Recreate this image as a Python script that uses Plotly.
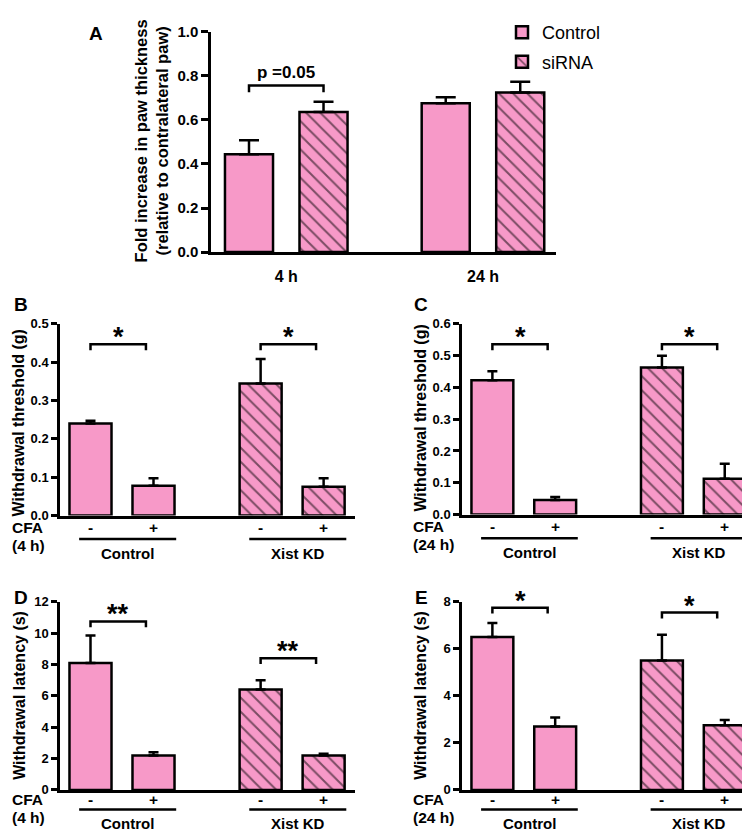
import plotly.graph_objects as go

W, H = 750, 832
PINK = "#F799C8"
FONT = "Arial, Liberation Sans, sans-serif"

# ---------------- Data ----------------
# Panel A
a_groups = ["4 h", "24 h"]
a_series = ["Control", "siRNA"]
a_control = [0.444, 0.675]
a_control_err = [0.063, 0.027]
a_sirna = [0.636, 0.724]
a_sirna_err = [0.046, 0.049]
a_sig_text = "p =0.05"
a_sig_y = 0.756

# Panels B-E
groups = ["Control", "Xist KD"]
cfa = ["-", "+"]

b_control = [0.240, 0.078]
b_control_err = [0.007, 0.019]
b_xist = [0.344, 0.075]
b_xist_err = [0.064, 0.022]
b_sig = ["*", "*"]
b_sig_y = [0.446, 0.446]

c_control = [0.422, 0.046]
c_control_err = [0.028, 0.009]
c_xist = [0.462, 0.113]
c_xist_err = [0.037, 0.047]
c_sig = ["*", "*"]
c_sig_y = [0.535, 0.535]

d_control = [8.1, 2.2]
d_control_err = [1.75, 0.2]
d_xist = [6.4, 2.2]
d_xist_err = [0.6, 0.1]
d_sig = ["**", "**"]
d_sig_y = [10.75, 8.4]

e_control = [6.5, 2.7]
e_control_err = [0.6, 0.38]
e_xist = [5.5, 2.75]
e_xist_err = [1.1, 0.22]
e_sig = ["*", "*"]
e_sig_y = [7.75, 7.54]


def py(p):
    return 1 - p / H


def px(p):
    return p / W


def pos(g, s, gap):
    return g * (1 + gap) + s


fig = go.Figure()
annotations = []
shapes = []

line_w = 2.5
solid = dict(color=PINK, line=dict(color="black", width=line_w))
hatch = dict(color=PINK, line=dict(color="black", width=line_w),
             pattern=dict(shape="\\", bgcolor=PINK, fgcolor="black", size=10, solidity=0.2))


def bold(size):
    return dict(family=FONT, size=size, color="black", weight="bold")


def ann(**kw):
    d = dict(showarrow=False, xanchor="center", yanchor="middle")
    d.update(kw)
    annotations.append(d)


def err(arr, w):
    return dict(type="data", array=arr, arrayminus=[0] * len(arr), symmetric=False,
                color="black", thickness=line_w, width=w)


def bracket(fig, xa, ya, x1, x2, y, drop, text, size, yshift):
    fig.add_trace(go.Scatter(x=[x1, x1, x2, x2], y=[y - drop, y, y, y - drop], mode="lines",
                             line=dict(color="black", width=line_w), xaxis=xa, yaxis=ya,
                             showlegend=False, hoverinfo="skip", cliponaxis=False))
    ann(x=(x1 + x2) / 2, y=y, xref=xa, yref=ya, text=text, yanchor="bottom", yshift=yshift,
        font=bold(size))


# ---------------- Panel A ----------------
gapA = 1.64
bwA = 0.645
xa_c = [pos(g, 0, gapA) for g in range(len(a_groups))]
xa_s = [pos(g, 1, gapA) for g in range(len(a_groups))]
fig.add_trace(go.Bar(x=xa_c, y=a_control, name=a_series[0], marker=solid, width=bwA,
                     error_y=err(a_control_err, 10), xaxis="x", yaxis="y",
                     legendgroup="a", showlegend=True))
fig.add_trace(go.Bar(x=xa_s, y=a_sirna, name=a_series[1], marker=hatch, width=bwA,
                     error_y=err(a_sirna_err, 10), xaxis="x", yaxis="y",
                     legendgroup="b", showlegend=True))
dropA = 7 * 1.0 / 225
bracket(fig, "x", "y", xa_c[0], xa_s[0], a_sig_y, dropA, a_sig_text, 17, 1)

layout = dict(
    width=W, height=H, margin=dict(l=0, r=0, t=0, b=0),
    paper_bgcolor="white", plot_bgcolor="white",
    barmode="overlay", showlegend=True,
    legend=dict(x=px(494), y=py(-3), xanchor="left", yanchor="top", tracegroupgap=3,
                font=dict(family=FONT, size=18, color="black"), bgcolor="rgba(0,0,0,0)"),
)

yax_common = dict(showline=True, linecolor="black", linewidth=line_w, ticks="outside",
                  tickwidth=line_w, tickcolor="black", showgrid=False, zeroline=False)
xax_common = dict(showline=True, linecolor="black", linewidth=line_w, ticks="",
                  showgrid=False, zeroline=False)

layout["xaxis"] = dict(domain=[px(203), px(548)], range=[-0.51, 4.12],
                       tickvals=[(a + b) / 2 for a, b in zip(xa_c, xa_s)], ticktext=a_groups,
                       tickfont=bold(16), ticklabelstandoff=8, anchor="y", **xax_common)
layout["yaxis"] = dict(domain=[py(240), py(15)], range=[0, 1.0], dtick=0.2, tickformat=".1f",
                       tickfont=bold(15), anchor="x", ticklen=7, **yax_common)
ann(x=px(88), y=py(17), xref="paper", yref="paper", text="A", font=bold(19))
ann(x=px(143), y=py(127), xref="paper", yref="paper", textangle=-90,
    text="Fold increase in paw thickness<br>(relative to contralateral paw)", font=bold(16.5))

# ---------------- Panels B-E ----------------
gapB = 1.7
bwB = 0.667
panels = [
    dict(ax="2", letter="B", x0=52, x1=347, yb=509, yt=313, top=0.5, dtick=0.1, fmt=".1f",
         ctrl=b_control, ctrl_err=b_control_err, xist=b_xist, xist_err=b_xist_err,
         sig=b_sig, sig_y=b_sig_y, title="Withdrawal threshold (g)", time="(4 h)",
         letter_xy=(13, 293), title_xy=(11, 415), cfa_x=2,
         offs=dict(cfa=12, line=24, time=31, grp=39)),
    dict(ax="3", letter="C", x0=454, x1=748, yb=508, yt=313, top=0.6, dtick=0.1, fmt=".1f",
         ctrl=c_control, ctrl_err=c_control_err, xist=c_xist, xist_err=c_xist_err,
         sig=c_sig, sig_y=c_sig_y, title="Withdrawal threshold (g)", time="(24 h)",
         letter_xy=(413, 293), title_xy=(413, 410), cfa_x=403,
         offs=dict(cfa=12, line=24, time=31, grp=39)),
    dict(ax="4", letter="D", x0=52, x1=347, yb=789, yt=597, top=12, dtick=2, fmt="d",
         ctrl=d_control, ctrl_err=d_control_err, xist=d_xist, xist_err=d_xist_err,
         sig=d_sig, sig_y=d_sig_y, title="Withdrawal latency (s)", time="(4 h)",
         letter_xy=(13, 593), title_xy=(12, 693), cfa_x=2,
         offs=dict(cfa=10, line=20, time=28, grp=34)),
    dict(ax="5", letter="E", x0=454, x1=748, yb=789, yt=597, top=8, dtick=2, fmt="d",
         ctrl=e_control, ctrl_err=e_control_err, xist=e_xist, xist_err=e_xist_err,
         sig=e_sig, sig_y=e_sig_y, title="Withdrawal latency (s)", time="(24 h)",
         letter_xy=(413, 593), title_xy=(413, 693), cfa_x=403,
         offs=dict(cfa=10, line=20, time=28, grp=34)),
]

for p in panels:
    xa, ya = "x" + p["ax"], "y" + p["ax"]
    xc = [pos(0, s, gapB) for s in range(len(cfa))]
    xx = [pos(1, s, gapB) for s in range(len(cfa))]
    fig.add_trace(go.Bar(x=xc, y=p["ctrl"], name=groups[0], marker=solid, width=bwB,
                         error_y=err(p["ctrl_err"], 5), xaxis=xa, yaxis=ya, showlegend=False))
    fig.add_trace(go.Bar(x=xx, y=p["xist"], name=groups[1], marker=hatch, width=bwB,
                         error_y=err(p["xist_err"], 5), xaxis=xa, yaxis=ya, showlegend=False))
    hpx = p["yb"] - p["yt"]
    drop = 6 * p["top"] / hpx
    ssize = 27
    bracket(fig, xa, ya, xc[0], xc[1] - 0.12, p["sig_y"][0], drop, p["sig"][0], ssize, -10)
    bracket(fig, xa, ya, xx[0], xx[1] - 0.12, p["sig_y"][1], drop, p["sig"][1], ssize, -10)

    layout["xaxis" + p["ax"]] = dict(domain=[px(p["x0"]), px(p["x1"])], range=[-0.484, 4.198],
                                     showticklabels=False, anchor=ya, **xax_common)
    layout["yaxis" + p["ax"]] = dict(domain=[py(p["yb"]), py(p["yt"])], range=[0, p["top"]],
                                     dtick=p["dtick"], tickformat=p["fmt"], anchor=xa, ticklen=6,
                                     tickfont=bold(13), **yax_common)
    o = p["offs"]
    bf = bold(15.5)
    ann(x=px(p["letter_xy"][0]), y=py(p["letter_xy"][1]), xref="paper", yref="paper",
        text=p["letter"], font=bold(19))
    ann(x=px(p["title_xy"][0]), y=py(p["title_xy"][1]), xref="paper", yref="paper",
        text=p["title"], textangle=-90, font=bold(16))
    ann(x=px(p["cfa_x"]), y=py(p["yb"] + o["cfa"]), xref="paper", yref="paper",
        xanchor="left", text="CFA", font=bf)
    ann(x=px(p["cfa_x"]), y=py(p["yb"] + o["time"]), xref="paper", yref="paper",
        xanchor="left", text=p["time"], font=bf)
    for g, xs in enumerate([xc, xx]):
        for s, lab in enumerate(cfa):
            ann(x=xs[s], y=py(p["yb"] + o["cfa"]), xref=xa, yref="paper", text=lab, font=bf)
        lx0, lx1 = xs[0] - 0.18, xs[1] + 0.36
        shapes.append(dict(type="line", xref=xa, yref="paper", x0=lx0, x1=lx1,
                           y0=py(p["yb"] + o["line"]), y1=py(p["yb"] + o["line"]),
                           line=dict(color="black", width=line_w)))
        ann(x=(lx0 + lx1) / 2, y=py(p["yb"] + o["grp"]), xref=xa, yref="paper",
            text=groups[g], font=bold(15))

layout["annotations"] = annotations
layout["shapes"] = shapes
fig.update_layout(**layout)
fig.write_html("out.html")
